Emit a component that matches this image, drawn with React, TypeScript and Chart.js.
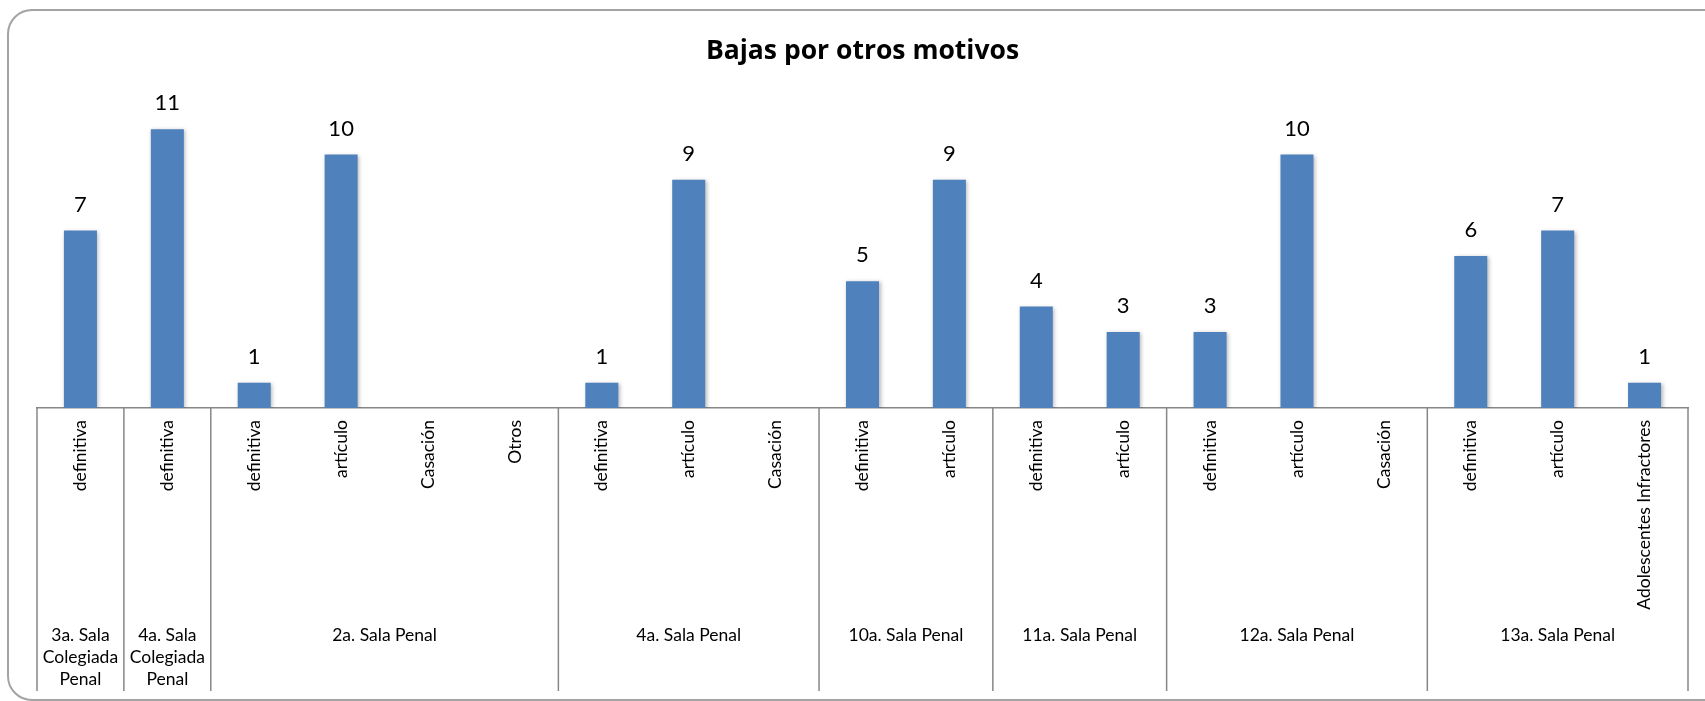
import React, { useEffect, useRef } from 'react';
import { Chart, registerables } from 'chart.js';

Chart.register(...registerables);

const chartTitle = 'Bajas por otros motivos';
const groups = [
  '3a. Sala Colegiada Penal',
  '4a. Sala Colegiada Penal',
  '2a. Sala Penal',
  '4a. Sala Penal',
  '10a. Sala Penal',
  '11a. Sala Penal',
  '12a. Sala Penal',
  '13a. Sala Penal',
];
const groupSizes = [1, 1, 4, 3, 2, 2, 3, 3];
const categories = [
  'definitiva',
  'definitiva',
  'definitiva', 'artículo', 'Casación', 'Otros',
  'definitiva', 'artículo', 'Casación',
  'definitiva', 'artículo',
  'definitiva', 'artículo',
  'definitiva', 'artículo', 'Casación',
  'definitiva', 'artículo', 'Adolescentes Infractores',
];
const values = [7, 11, 1, 10, 0, 0, 1, 9, 0, 5, 9, 4, 3, 3, 10, 0, 6, 7, 1];
const yMax = 12;

const FONT = 'Lato, "Noto Sans", sans-serif';
const TITLE_FONT = '"Open Sans", Lato, sans-serif';
const BAR_COLOR = '#4F81BD';
const LINE_COLOR = '#878787';

function wrapText(ctx: CanvasRenderingContext2D, text: string, maxW: number): string[] {
  const words = text.split(' ');
  const lines: string[] = [];
  let cur = '';
  for (const w of words) {
    const test = cur ? cur + ' ' + w : w;
    if (ctx.measureText(test).width > maxW && cur) {
      lines.push(cur);
      cur = w;
    } else {
      cur = test;
    }
  }
  if (cur) lines.push(cur);
  return lines;
}

export default function App() {
  const ref = useRef<HTMLCanvasElement>(null);

  useEffect(() => {
    const canvas = ref.current!;

    const framePlugin = {
      id: 'frame',
      beforeDraw(chart: any) {
        const ctx = chart.ctx as CanvasRenderingContext2D;
        ctx.save();
        ctx.fillStyle = '#ffffff';
        ctx.fillRect(0, 0, chart.width, chart.height);
        ctx.beginPath();
        (ctx as any).roundRect(8, 10, 1740, 690, 24);
        ctx.strokeStyle = '#a3a3a3';
        ctx.lineWidth = 2;
        ctx.stroke();
        ctx.restore();
      },
    };

    const shadowPlugin = {
      id: 'barShadow',
      beforeDatasetsDraw(chart: any) {
        const ctx = chart.ctx as CanvasRenderingContext2D;
        ctx.save();
        ctx.shadowColor = 'rgba(0,0,0,0.28)';
        ctx.shadowBlur = 4;
        ctx.shadowOffsetX = 1.5;
        ctx.shadowOffsetY = 1;
      },
      afterDatasetsDraw(chart: any) {
        chart.ctx.restore();
      },
    };

    const overlayPlugin = {
      id: 'overlay',
      afterDraw(chart: any) {
        const ctx = chart.ctx as CanvasRenderingContext2D;
        const xs = chart.scales.x;
        const area = chart.chartArea;
        ctx.save();
        // data labels
        ctx.font = `22px ${FONT}`;
        ctx.fillStyle = '#000';
        ctx.textAlign = 'center';
        ctx.textBaseline = 'alphabetic';
        const meta = chart.getDatasetMeta(0);
        meta.data.forEach((bar: any, i: number) => {
          if (values[i] > 0) ctx.fillText(String(values[i]), bar.x, bar.y - 19);
        });
        // group dividers and labels
        const catW = xs.getPixelForValue(1) - xs.getPixelForValue(0);
        const lineBottom = 691;
        ctx.strokeStyle = LINE_COLOR;
        ctx.lineWidth = 1.5;
        const drawV = (x: number) => {
          ctx.beginPath();
          ctx.moveTo(x, area.bottom);
          ctx.lineTo(x, lineBottom);
          ctx.stroke();
        };
        drawV(xs.getPixelForValue(0) - catW / 2);
        ctx.font = `17.5px ${FONT}`;
        ctx.textBaseline = 'middle';
        let start = 0;
        groups.forEach((g, gi) => {
          const end = start + groupSizes[gi];
          const x1 = xs.getPixelForValue(start) - catW / 2;
          const x2 = xs.getPixelForValue(end - 1) + catW / 2;
          drawV(x2);
          const lines = wrapText(ctx, g, x2 - x1 - 8);
          lines.forEach((ln, li) => {
            ctx.fillText(ln, (x1 + x2) / 2, 635 + li * 22);
          });
          start = end;
        });
        ctx.restore();
      },
    };

    const chart = new Chart(canvas, {
      type: 'bar',
      data: {
        labels: categories,
        datasets: [
          {
            data: values,
            backgroundColor: BAR_COLOR,
            barPercentage: 0.38,
            categoryPercentage: 1,
          },
        ],
      },
      options: {
        animation: false,
        responsive: true,
        maintainAspectRatio: false,
        layout: { padding: { left: 37, right: 17, top: 0, bottom: 0 } },
        plugins: {
          legend: { display: false },
          tooltip: { enabled: false },
          title: {
            display: true,
            text: chartTitle,
            color: '#000',
            font: { family: TITLE_FONT, size: 26.5, weight: 'bold' },
            padding: { top: 36, bottom: 36 },
          },
        },
        scales: {
          x: {
            grid: { display: false, drawTicks: false },
            border: { display: true, color: LINE_COLOR, width: 1.5 },
            ticks: {
              autoSkip: false,
              minRotation: 90,
              maxRotation: 90,
              padding: 12,
              color: '#000',
              font: { family: FONT, size: 17.5 },
            },
            afterFit: (s: any) => {
              s.height = 293;
            },
          },
          y: { display: false, min: 0, max: yMax },
        },
      },
      plugins: [framePlugin, shadowPlugin, overlayPlugin],
    } as any);

    return () => chart.destroy();
  }, []);

  return (
    <div style={{ position: 'fixed', left: 0, top: 0, width: '1705px', height: '701px' }}>
      <canvas ref={ref} />
    </div>
  );
}
